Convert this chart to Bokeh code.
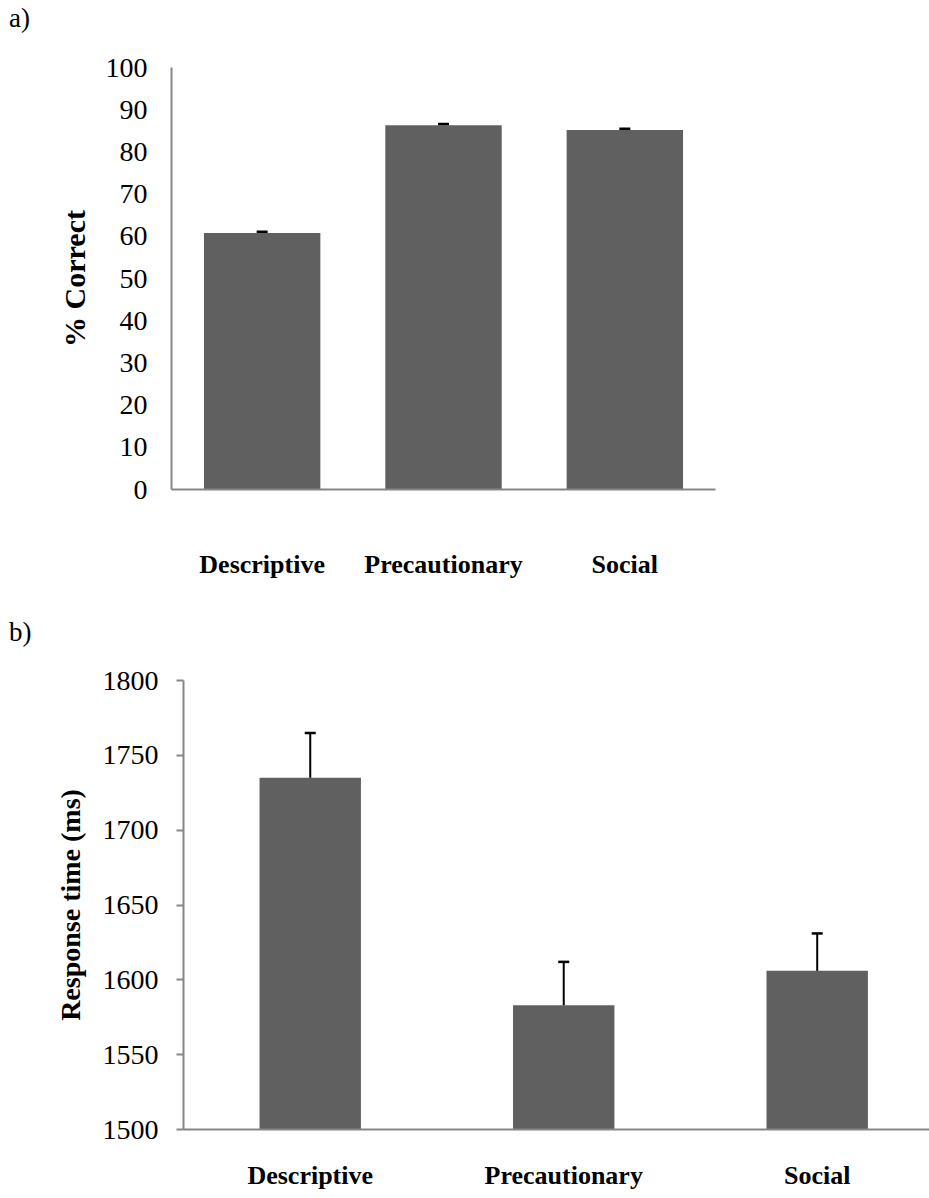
from bokeh.plotting import figure
from bokeh.models import Range1d, FixedTicker, ColumnDataSource, Div
from bokeh.embed import file_html
from bokeh.resources import INLINE

categories = ["Descriptive", "Precautionary", "Social"]
pct_correct = [60.8, 86.3, 85.2]
pct_err = [0.3, 0.3, 0.3]
rt_ms = [1735, 1583, 1606]
rt_err = [30, 29, 25]
pct_ticks = [0, 10, 20, 30, 40, 50, 60, 70, 80, 90, 100]
rt_ticks = [1500, 1550, 1600, 1650, 1700, 1750, 1800]

FONT = "Liberation Serif"
BAR = "#606060"
AXIS = "#868686"

xpos = [i + 0.5 for i in range(len(categories))]
overrides = {x: c for x, c in zip(xpos, categories)}


def tag_div(text, height, pad_top):
    return Div(text=text, width=929, height=height,
               styles={"font-family": FONT, "font-size": "27px", "line-height": "30px",
                       "padding-left": "9px", "padding-top": f"{pad_top}px", "margin": "0",
                       "color": "black", "box-sizing": "border-box", "overflow": "visible"})


def make(values, errs, yr, yticks, ylabel, height, bw, xend,
         mb_left, mb_right, mb_top, mb_bottom, yfs, ytick_out, ylab_fs,
         label_standoff, tick_standoff, ytick_standoff):
    p = figure(width=929, height=height, output_backend="svg", toolbar_location=None,
               x_range=Range1d(0, xend), y_range=Range1d(*yr),
               min_border_left=mb_left, min_border_right=mb_right,
               min_border_top=mb_top, min_border_bottom=mb_bottom)
    p.outline_line_color = None
    p.xgrid.visible = False
    p.ygrid.visible = False
    src = ColumnDataSource(dict(x=xpos, top=values, err_top=[v + e for v, e in zip(values, errs)]))
    p.vbar(x="x", top="top", bottom=yr[0], width=bw, source=src, fill_color=BAR, line_color=None)
    p.segment(x0="x", y0="top", x1="x", y1="err_top", source=src, line_color="black", line_width=2)
    p.scatter(x="x", y="err_top", source=src, marker="dash", size=11, line_color="black", line_width=2.5)

    xa = p.xaxis[0]
    xa.ticker = FixedTicker(ticks=xpos)
    xa.major_label_overrides = overrides
    xa.major_label_text_font = FONT
    xa.major_label_text_font_style = "bold"
    xa.major_label_text_font_size = "26px"
    xa.major_label_text_color = "black"
    xa.major_label_standoff = tick_standoff
    xa.axis_line_color = AXIS
    xa.axis_line_width = 2
    xa.major_tick_line_color = None
    xa.minor_tick_line_color = None

    ya = p.yaxis[0]
    ya.ticker = FixedTicker(ticks=yticks)
    ya.major_label_text_font = FONT
    ya.major_label_text_font_size = yfs
    ya.major_label_text_color = "black"
    ya.axis_line_color = AXIS
    ya.axis_line_width = 2
    ya.minor_tick_line_color = None
    if ytick_out:
        ya.major_tick_out = ytick_out
        ya.major_tick_in = 0
        ya.major_tick_line_color = AXIS
        ya.major_tick_line_width = 2
    else:
        ya.major_tick_line_color = None
        ya.major_tick_out = 0
        ya.major_tick_in = 0
    ya.major_label_standoff = ytick_standoff
    ya.axis_label = ylabel
    ya.axis_label_text_font = FONT
    ya.axis_label_text_font_style = "bold"
    ya.axis_label_text_font_size = ylab_fs
    ya.axis_label_text_color = "black"
    ya.axis_label_standoff = label_standoff
    return p


da = tag_div("a)", 36, 3)
pa = make(pct_correct, pct_err, (0, 100), pct_ticks, "% Correct", 574, 0.642, 3.0,
          171, 214, 31, 121, "28px", 0, "30px", 12, 54, 24)
db = tag_div("b)", 40, 7)
pb = make(rt_ms, rt_err, (1500, 1800), rt_ticks, "Response time (ms)", 548, 0.4, 2.943,
          183, 0, 30, 69, "28px", 7, "28px", 14, 25, 18)

open("out.html", "w").write(file_html([da, pa, db, pb], INLINE))
